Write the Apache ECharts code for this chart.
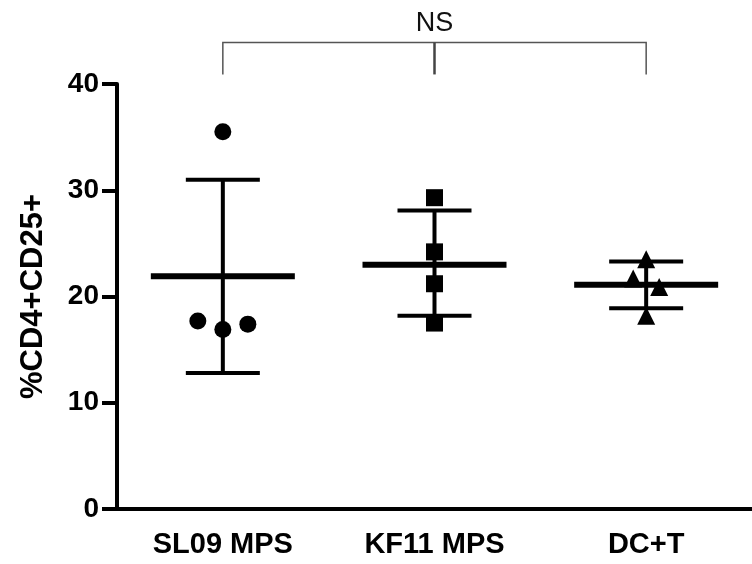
<!DOCTYPE html>
<html>
<head>
<meta charset="utf-8">
<script src="https://cdn.jsdelivr.net/npm/echarts@6/dist/echarts.min.js"></script>
<style>
  html, body { margin: 0; padding: 0; background: #fff; }
  #chart { width: 752px; height: 564px; }
</style>
</head>
<body>
<div id="chart"></div>
<script>
var categories = ['SL09 MPS', 'KF11 MPS', 'DC+T'];
var sl09Vals = [35.5, 17.7, 16.9, 17.4];
var kf11Vals = [29.3, 24.2, 21.2, 17.5];
var dctVals = [23.5, 21.7, 20.9, 18.2];
var meanVals = [21.9, 23.0, 21.1];
var sdLow = [12.8, 18.2, 18.9];
var sdHigh = [31.0, 28.1, 23.3];
var yTicks = [0, 10, 20, 30, 40];
var bracketLevel = [40.9, 43.9]; // foot and top of the NS bracket
var bracketLabel = 'NS';

// horizontal jitter of points (px), presentation only
var jitter = [[0, -25, 0, 25], [0, 0, 0, 0], [0, -13, 13, 0]];

var font = '"Liberation Sans", Arial, Helvetica, sans-serif';

function pointSeries(idx, vals, symbol, size) {
  return {
    type: 'scatter',
    symbol: symbol,
    symbolSize: size,
    itemStyle: { color: '#000', opacity: 1 },
    z: 5,
    data: vals.map(function (v, i) {
      return { value: [idx, v], symbolOffset: [jitter[idx][i], 0] };
    })
  };
}

var myChart = echarts.init(document.getElementById('chart'));
var option = {
  animation: false,
  grid: { left: 117, top: 84, width: 641, height: 425 },
  xAxis: {
    type: 'category',
    data: categories,
    boundaryGap: true,
    axisLine: { lineStyle: { color: '#000', width: 4 } },
    axisTick: { alignWithLabel: true, length: 16, lineStyle: { color: '#000', width: 4 } },
    axisLabel: { color: '#000', fontFamily: font, fontWeight: 'bold', fontSize: 29, margin: 21 },
    splitLine: { show: false }
  },
  yAxis: {
    type: 'value',
    min: 0, max: 40, interval: 10,
    name: '%CD4+CD25+',
    nameLocation: 'middle',
    nameGap: 68,
    nameRotate: 90,
    nameTextStyle: { color: '#000', fontFamily: font, fontWeight: 'bold', fontSize: 31 },
    axisLine: { show: true, lineStyle: { color: '#000', width: 4 } },
    axisTick: { show: true, length: 15, lineStyle: { color: '#000', width: 4 } },
    axisLabel: {
      color: '#000', fontFamily: font, fontWeight: 'bold', fontSize: 28, margin: 18,
      formatter: function (v) { return yTicks.indexOf(v) >= 0 ? String(v) : ''; }
    },
    splitLine: { show: false }
  },
  series: [
    {
      // mean and SD bars
      type: 'custom',
      z: 4,
      data: categories.map(function (c, i) { return [i, meanVals[i], sdLow[i], sdHigh[i]]; }),
      renderItem: function (params, api) {
        var m = api.coord([api.value(0), api.value(1)]);
        var lo = api.coord([api.value(0), api.value(2)]);
        var hi = api.coord([api.value(0), api.value(3)]);
        var x = m[0];
        var st = { stroke: '#000', lineWidth: 4 };
        return {
          type: 'group',
          children: [
            { type: 'line', shape: { x1: x, y1: hi[1], x2: x, y2: lo[1] }, style: st },
            { type: 'line', shape: { x1: x - 37, y1: hi[1], x2: x + 37, y2: hi[1] }, style: st },
            { type: 'line', shape: { x1: x - 37, y1: lo[1], x2: x + 37, y2: lo[1] }, style: st },
            { type: 'line', shape: { x1: x - 72, y1: m[1], x2: x + 72, y2: m[1] }, style: { stroke: '#000', lineWidth: 6 } }
          ]
        };
      }
    },
    pointSeries(0, sl09Vals, 'circle', 17),
    pointSeries(1, kf11Vals, 'rect', 17),
    pointSeries(2, dctVals, 'triangle', 18),
    {
      // NS bracket between first and last group, with a stem at the middle group
      type: 'custom',
      z: 3,
      clip: false,
      data: [[0, 2, 1]],
      renderItem: function (params, api) {
        var a = api.coord([api.value(0), bracketLevel[0]]);
        var b = api.coord([api.value(1), bracketLevel[0]]);
        var c = api.coord([api.value(2), bracketLevel[0]]);
        var top = api.coord([api.value(0), bracketLevel[1]])[1];
        var st = { stroke: '#555', lineWidth: 1.5, fill: null };
        return {
          type: 'group',
          children: [
            { type: 'polyline', shape: { points: [[a[0], a[1]], [a[0], top], [b[0], top], [b[0], b[1]]] }, style: st },
            { type: 'line', shape: { x1: c[0], y1: top, x2: c[0], y2: c[1] }, style: { stroke: '#444', lineWidth: 2.5 } },
            { type: 'text', x: c[0], y: top - 6, style: { text: bracketLabel, fill: '#111', font: '27px ' + font, align: 'center', verticalAlign: 'bottom' } }
          ]
        };
      }
    }
  ]
};
myChart.setOption(option);
</script>
</body>
</html>
